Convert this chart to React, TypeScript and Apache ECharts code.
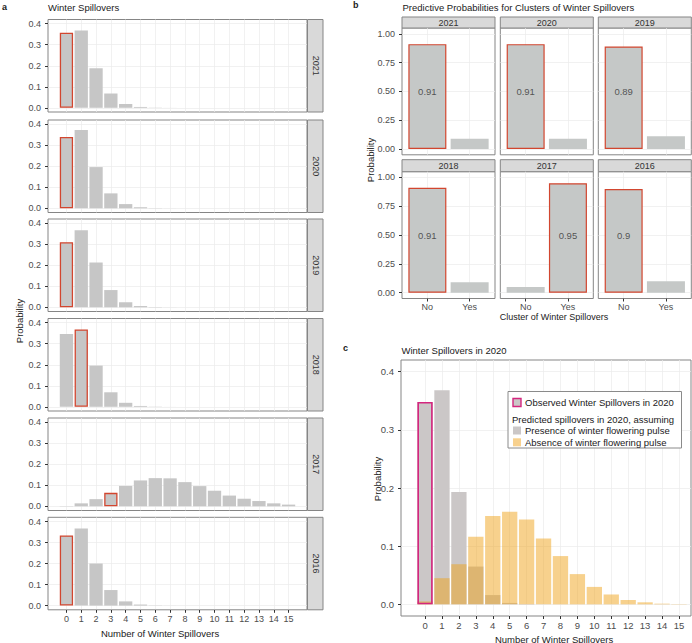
import React, { useEffect, useRef } from "react";
import * as echarts from "echarts";

// ---------- DATA ----------
const spillCounts = [0, 1, 2, 3, 4, 5, 6, 7, 8, 9, 10, 11, 12, 13, 14, 15];
const yearsA = ["2021", "2020", "2019", "2018", "2017", "2016"];
const prob2021 = [0.357, 0.368, 0.188, 0.068, 0.018, 0.004, 0.001, 0.0003, 0.0001, 0, 0, 0, 0, 0, 0, 0];
const prob2020 = [0.339, 0.373, 0.196, 0.071, 0.02, 0.005, 0.001, 0.0002, 0, 0, 0, 0, 0, 0, 0, 0];
const prob2019 = [0.31, 0.366, 0.213, 0.082, 0.024, 0.006, 0.0015, 0.0003, 0, 0, 0, 0, 0, 0, 0, 0];
const prob2018 = [0.346, 0.368, 0.196, 0.069, 0.019, 0.004, 0.001, 0.0002, 0, 0, 0, 0, 0, 0, 0, 0];
const prob2017 = [0.002, 0.014, 0.034, 0.064, 0.097, 0.123, 0.134, 0.133, 0.115, 0.096, 0.074, 0.051, 0.036, 0.025, 0.014, 0.008];
const prob2016 = [0.334, 0.367, 0.2, 0.074, 0.02, 0.005, 0.001, 0.0002, 0, 0, 0, 0, 0, 0, 0, 0];
const observedA = [0, 0, 0, 1, 3, 0];

const yearsB = ["2021", "2020", "2019", "2018", "2017", "2016"];
const clusterCats = ["No", "Yes"];
const probNo = [0.91, 0.91, 0.89, 0.91, 0.05, 0.9];
const probYes = [0.09, 0.09, 0.11, 0.09, 0.95, 0.1];
const observedB = [0, 0, 0, 0, 1, 0];
const labelB = ["0.91", "0.91", "0.89", "0.91", "0.95", "0.9"];

const presence2020 = [0.348, 0.368, 0.193, 0.065, 0.016, 0.0025, 0.0006, 0.0001, 0, 0, 0, 0, 0, 0, 0, 0];
const absence2020 = [0.005, 0.045, 0.069, 0.116, 0.152, 0.159, 0.146, 0.113, 0.083, 0.052, 0.03, 0.017, 0.0075, 0.0035, 0.0012, 0.0005];
const observed2020 = 0;

const yTicksA = [0, 0.1, 0.2, 0.3, 0.4];
const yTicksB = [0, 0.25, 0.5, 0.75, 1];

// ---------- STYLE ----------
const FONT = "'Liberation Sans', Arial, Helvetica, sans-serif";
const BORDER = "#858585";
const GRIDC = "#ebebeb";
const BAR_GREY = "#c6c6c6";
const RED = "#d2462f";
const PINK = "#d4267e";
const ORANGE = "rgba(240,163,28,0.5)";
const STRIP = "#d9d9d9";

export default function App() {
  const ref = useRef<HTMLDivElement>(null);

  useEffect(() => {
    if (!ref.current) return;
    const chart = echarts.init(ref.current, undefined, { renderer: "svg" });

    const grids: any[] = [];
    const xAxes: any[] = [];
    const yAxes: any[] = [];
    const series: any[] = [];
    const graphics: any[] = [];

    const txt = (x: number, y: number, text: string, o: any = {}) => ({
      type: "text",
      x,
      y,
      rotation: o.rotation || 0,
      silent: true,
      style: {
        text,
        fill: o.fill || "#1a1a1a",
        fontSize: o.fontSize || 9.5,
        fontFamily: FONT,
        fontWeight: o.fontWeight || "normal",
        align: o.align || "left",
        verticalAlign: "middle",
      },
    });

    const noLine = { show: false, onZero: false };

    // ---------- Panel a ----------
    const dataA = [prob2021, prob2020, prob2019, prob2018, prob2017, prob2016];
    const topsA = [19.5, 120, 219, 318.5, 418, 517.3];
    const hA = 92.5;
    topsA.forEach((top, i) => {
      const gi = grids.length;
      grids.push({ left: 48, top, width: 259, height: hA, show: true, borderColor: BORDER, borderWidth: 1, backgroundColor: "#fff" });
      const bottom = i === 5;
      xAxes.push({
        gridIndex: gi, type: "value", min: -1.245, max: 16.245, position: "bottom",
        axisLine: noLine,
        axisTick: { show: bottom, length: 3, customValues: spillCounts, lineStyle: { color: "#333" } },
        axisLabel: { show: bottom, customValues: spillCounts, fontSize: 9, color: "#4d4d4d", margin: 5, fontFamily: FONT },
        splitLine: { show: true, lineStyle: { color: GRIDC, width: 0.7 } },
      });
      yAxes.push({
        gridIndex: gi, type: "value", min: -0.02, max: 0.42, position: "left",
        axisLine: noLine,
        axisTick: { show: true, length: 3, customValues: yTicksA, lineStyle: { color: "#333" } },
        axisLabel: { customValues: yTicksA, formatter: (v: number) => v.toFixed(1), fontSize: 9, color: "#4d4d4d", margin: 7, fontFamily: FONT },
        splitLine: { show: true, lineStyle: { color: GRIDC, width: 0.7 } },
      });
      series.push({
        type: "bar", xAxisIndex: gi, yAxisIndex: gi, barWidth: 13.3,
        data: spillCounts.map((c, j) => ({
          value: [c, dataA[i][j]],
          itemStyle: j === observedA[i]
            ? { color: BAR_GREY, borderColor: RED, borderWidth: 1.3 }
            : { color: BAR_GREY },
        })),
      });
      graphics.push({ type: "rect", shape: { x: 307.5, y: top, width: 15.5, height: hA }, style: { fill: STRIP, stroke: BORDER, lineWidth: 1 }, silent: true });
      graphics.push(txt(315.5, top + hA / 2, yearsA[i], { rotation: -Math.PI / 2, align: "center", fontSize: 9, fill: "#333" }));
    });
    graphics.push(txt(2, 7, "a", { fontWeight: "bold", fontSize: 9 }));
    graphics.push(txt(48, 7.5, "Winter Spillovers", { fontSize: 9.5 }));
    graphics.push(txt(19, 321, "Probability", { rotation: Math.PI / 2, align: "center", fontSize: 9.5 }));
    graphics.push(txt(160, 633, "Number of Winter Spillovers", { align: "center", fontSize: 9.5 }));

    // ---------- Panel b ----------
    const leftsB = [402, 500.3, 598.3];
    const topsB = [28, 171.7];
    const hB = 126.8;
    const wB = 93;
    yearsB.forEach((yr, k) => {
      const col = k % 3;
      const row = Math.floor(k / 3);
      const left = leftsB[col];
      const top = topsB[row];
      const gi = grids.length;
      grids.push({ left, top, width: wB, height: hB, show: true, borderColor: BORDER, borderWidth: 1, backgroundColor: "#fff" });
      xAxes.push({
        gridIndex: gi, type: "value", min: -0.6, max: 1.6, position: "bottom",
        axisLine: noLine,
        axisTick: { show: row === 1, length: 3, customValues: [0, 1], lineStyle: { color: "#333" } },
        axisLabel: { show: row === 1, customValues: [0, 1], formatter: (v: number) => clusterCats[Math.round(v)], fontSize: 9, color: "#4d4d4d", margin: 4, fontFamily: FONT },
        splitLine: { show: true, lineStyle: { color: GRIDC, width: 0.7 } },
      });
      yAxes.push({
        gridIndex: gi, type: "value", min: -0.05, max: 1.05, position: "left",
        axisLine: noLine,
        axisTick: { show: col === 0, length: 3, customValues: yTicksB, lineStyle: { color: "#333" } },
        axisLabel: { show: col === 0, customValues: yTicksB, formatter: (v: number) => v.toFixed(2), fontSize: 9, color: "#4d4d4d", margin: 7, fontFamily: FONT },
        splitLine: { show: true, lineStyle: { color: GRIDC, width: 0.7 } },
      });
      const vals = [probNo[k], probYes[k]];
      series.push({
        type: "bar", xAxisIndex: gi, yAxisIndex: gi, barWidth: 38,
        data: vals.map((v, j) => ({
          value: [j, v],
          itemStyle: j === observedB[k]
            ? { color: "#c5c8c7", borderColor: RED, borderWidth: 1.2 }
            : { color: "#c5c8c7" },
        })),
      });
      series.push({
        type: "scatter", xAxisIndex: gi, yAxisIndex: gi, symbolSize: 0, silent: true,
        data: [[observedB[k], 0.5]],
        label: { show: true, position: "inside", formatter: labelB[k], fontSize: 9.5, color: "#333", fontFamily: FONT },
      });
      const sh = row === 0 ? 11 : 12;
      graphics.push({ type: "rect", shape: { x: left, y: top - sh, width: wB, height: sh }, style: { fill: STRIP, stroke: BORDER, lineWidth: 1 }, silent: true });
      graphics.push(txt(left + wB / 2, top - sh / 2, yr, { align: "center", fontSize: 9, fill: "#333" }));
    });
    graphics.push(txt(353, 5, "b", { fontWeight: "bold", fontSize: 9 }));
    graphics.push(txt(402.5, 7.5, "Predictive Probabilities for Clusters of Winter Spillovers", { fontSize: 9.5 }));
    graphics.push(txt(370, 160, "Probability", { rotation: Math.PI / 2, align: "center", fontSize: 9.5 }));
    graphics.push(txt(554, 317, "Cluster of Winter Spillovers", { align: "center", fontSize: 9 }));

    // ---------- Panel c ----------
    {
      const gi = grids.length;
      grids.push({ left: 401, top: 360, width: 290, height: 256, show: true, borderColor: BORDER, borderWidth: 1, backgroundColor: "#fff" });
      xAxes.push({
        gridIndex: gi, type: "value", min: -1.42, max: 15.71, position: "bottom",
        axisLine: noLine,
        axisTick: { show: true, length: 3, customValues: spillCounts, lineStyle: { color: "#333" } },
        axisLabel: { customValues: spillCounts, fontSize: 9.5, color: "#4d4d4d", margin: 4, fontFamily: FONT },
        splitLine: { show: true, lineStyle: { color: GRIDC, width: 0.7 } },
      });
      yAxes.push({
        gridIndex: gi, type: "value", min: -0.02, max: 0.42, position: "left",
        axisLine: noLine,
        axisTick: { show: true, length: 3, customValues: yTicksA, lineStyle: { color: "#333" } },
        axisLabel: { customValues: yTicksA, formatter: (v: number) => v.toFixed(1), fontSize: 9.5, color: "#4d4d4d", margin: 7, fontFamily: FONT },
        splitLine: { show: true, lineStyle: { color: GRIDC, width: 0.7 } },
      });
      series.push({
        type: "bar", xAxisIndex: gi, yAxisIndex: gi, barWidth: 15.3, barGap: "-100%",
        itemStyle: { color: "#cbc7c7" },
        data: spillCounts.map((c, j) => [c, presence2020[j]]),
      });
      series.push({
        type: "bar", xAxisIndex: gi, yAxisIndex: gi, barWidth: 15.3, barGap: "-100%",
        itemStyle: { color: ORANGE },
        data: spillCounts.map((c, j) => [c, absence2020[j]]),
      });
      series.push({
        type: "bar", xAxisIndex: gi, yAxisIndex: gi, barWidth: 15.3, barGap: "-100%",
        itemStyle: { color: "rgba(0,0,0,0)", borderColor: PINK, borderWidth: 1.6 },
        data: [[spillCounts[observed2020], presence2020[observed2020]]],
      });
    }
    graphics.push(txt(343, 348, "c", { fontWeight: "bold", fontSize: 9 }));
    graphics.push(txt(401.5, 350, "Winter Spillovers in 2020", { fontSize: 9.5 }));
    graphics.push(txt(377, 479, "Probability", { rotation: Math.PI / 2, align: "center", fontSize: 9.5 }));
    graphics.push(txt(554, 639, "Number of Winter Spillovers", { align: "center", fontSize: 9.5 }));

    // legend for panel c
    graphics.push({ type: "rect", shape: { x: 508, y: 391.5, width: 173.5, height: 56.5 }, style: { fill: "#fff", stroke: "#8a8a8a", lineWidth: 1 }, silent: true, z: 10 });
    graphics.push({ type: "rect", shape: { x: 513, y: 398.5, width: 8, height: 8 }, style: { fill: "#cbc7c7", stroke: PINK, lineWidth: 1.4 }, silent: true, z: 11 });
    graphics.push({ ...txt(525, 402.3, "Observed Winter Spillovers in 2020", { fontSize: 9.5 }), z: 11 });
    graphics.push({ ...txt(512, 419, "Predicted spillovers in 2020, assuming", { fontSize: 9.5 }), z: 11 });
    graphics.push({ type: "rect", shape: { x: 513, y: 426.5, width: 8, height: 8 }, style: { fill: "#cbc7c7" }, silent: true, z: 11 });
    graphics.push({ ...txt(525, 430.5, "Presence of winter flowering pulse", { fontSize: 9.5 }), z: 11 });
    graphics.push({ type: "rect", shape: { x: 513, y: 438.3, width: 8, height: 8 }, style: { fill: "#f8d18e" }, silent: true, z: 11 });
    graphics.push({ ...txt(525, 442.3, "Absence of winter flowering pulse", { fontSize: 9.5 }), z: 11 });

    chart.setOption({
      animation: false,
      backgroundColor: "#fff",
      textStyle: { fontFamily: FONT },
      grid: grids,
      xAxis: xAxes,
      yAxis: yAxes,
      series,
      graphic: { elements: graphics },
    });

    return () => chart.dispose();
  }, []);

  return (
    <div
      ref={ref}
      style={{ position: "fixed", left: 0, top: 0, width: 692, height: 643, background: "#fff" }}
    />
  );
}
